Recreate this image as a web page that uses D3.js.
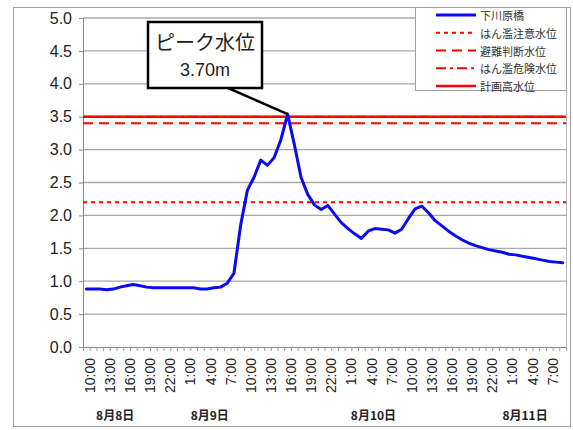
<!DOCTYPE html>
<html><head><meta charset="utf-8">
<script src="https://cdn.jsdelivr.net/npm/d3@7"></script>
<style>
html,body{margin:0;padding:0;background:#fff;}
svg{display:block;}
</style></head>
<body>
<svg id="chart" width="573" height="430"></svg>
<script>
// ---- data ----
const startHour = 10;           // first category: 8/8 10:00
const nCategories = 72;         // hourly observations
const levels = [0.88,0.88,0.88,0.87,0.88,0.91,0.93,0.95,0.93,0.91,0.90,0.90,
  0.90,0.90,0.90,0.90,0.90,0.88,0.88,0.90,0.91,0.97,1.12,1.85,
  2.38,2.58,2.84,2.76,2.88,3.15,3.54,3.08,2.58,2.32,2.16,2.09,
  2.15,2.02,1.89,1.80,1.72,1.65,1.76,1.80,1.79,1.78,1.73,1.79,
  1.95,2.10,2.14,2.04,1.92,1.84,1.76,1.69,1.63,1.58,1.54,1.51,
  1.48,1.46,1.44,1.41,1.40,1.38,1.36,1.34,1.32,1.30,1.29,1.28];
const seriesName = "下川原橋";
const refNames = ["はん濫注意水位","避難判断水位","はん濫危険水位","計画高水位"];
const refValues = [2.20, 3.40, 3.50, 3.50];
const yTicks = [0,0.5,1,1.5,2,2.5,3,3.5,4,4.5,5];
const tickLabels = ["10:00","13:00","16:00","19:00","22:00","1:00","4:00","7:00",
  "10:00","13:00","16:00","19:00","22:00","1:00","4:00","7:00",
  "10:00","13:00","16:00","19:00","22:00","1:00","4:00","7:00"];
const dateLabels = ["8月8日","8月9日","8月10日","8月11日"];
const dateAt = [4.3, 18.4, 42.8, 65.4];   // category index under which each date sits
const peakLabel = ["ピーク水位","3.70m"];

// ---- layout ----
const svg = d3.select("#chart");
const L = 83, R = 566, T = 18, B = 347;
const cats = d3.range(nCategories);
const x = d3.scaleBand().domain(cats).range([L, R]).padding(0);
const cx = i => x(i) + x.bandwidth()/2;
const xc = d3.scaleLinear().domain([-0.5, nCategories-0.5]).range([L, R]);
const y = d3.scaleLinear().domain([0,5]).range([B, T]);
const numFont = "'Liberation Sans', Arial, sans-serif";
const jpFont = "'Noto Sans CJK JP', sans-serif";

// outer frame
svg.append("rect").attr("x",13.5).attr("y",7.5).attr("width",557).attr("height",419)
  .attr("fill","#fff").attr("stroke","#a0a0a0").attr("stroke-width",1);

// gridlines
svg.append("g").selectAll("line").data(yTicks.filter(d=>d>0)).join("line")
  .attr("x1",L).attr("x2",R).attr("y1",d=>y(d)).attr("y2",d=>y(d))
  .attr("stroke","#a8a8a8").attr("stroke-width",1.3);
// plot right border
svg.append("line").attr("x1",R+0.5).attr("x2",R+0.5).attr("y1",T).attr("y2",B)
  .attr("stroke","#b8b8b8").attr("stroke-width",1);

// y axis
const yAxis = d3.axisLeft(y).tickValues(yTicks).tickFormat(d3.format(".1f")).tickSize(4).tickPadding(7);
const gy = svg.append("g").attr("transform",`translate(${L},0)`).call(yAxis);
gy.select(".domain").attr("stroke","#888");
gy.selectAll(".tick line").attr("stroke","#888");
gy.selectAll("text").attr("font-family",numFont).attr("font-size",16).attr("fill","#222");

// x axis (hourly minor ticks at category boundaries)
const gx = svg.append("g").attr("transform",`translate(0,${B})`)
  .call(d3.axisBottom(xc).tickValues(d3.range(-0.5, nCategories, 1)).tickSize(4).tickFormat(""));
gx.select(".domain").attr("stroke","#888");
gx.selectAll(".tick line").attr("stroke","#999");

// x tick labels every 3 hours
svg.append("g").selectAll("text").data(tickLabels).join("text")
  .attr("transform",(d,i)=>`translate(${cx(i*3)+3.5},${B+11}) rotate(-90)`)
  .attr("text-anchor","end").attr("dominant-baseline","central")
  .attr("font-family",numFont).attr("font-size",14).attr("fill","#222")
  .text(d=>d);

// date labels
svg.append("g").selectAll("text").data(dateLabels).join("text")
  .attr("x",(d,i)=>xc(dateAt[i])).attr("y",420)
  .attr("text-anchor","middle").attr("font-family",jpFont).attr("font-weight","bold")
  .attr("font-size",12).attr("fill","#222").text(d=>d);

// reference lines
const refStyles = [
  {dash:"4,4", w:2},
  {dash:"10,6", w:2},
  {dash:"10,4,3,4", w:2},
  {dash:null, w:2.6}
];
svg.append("g").selectAll("line").data(refValues).join("line")
  .attr("x1",L).attr("x2",R).attr("y1",d=>y(d)).attr("y2",d=>y(d))
  .attr("stroke","#ff0000").attr("stroke-width",(d,i)=>refStyles[i].w)
  .attr("stroke-dasharray",(d,i)=>refStyles[i].dash);

// water level line
const line = d3.line().x((d,i)=>cx(i)).y(d=>y(d)).curve(d3.curveLinear);
svg.append("path").datum(levels).attr("d",line)
  .attr("fill","none").attr("stroke","#0a0af5").attr("stroke-width",3)
  .attr("stroke-linejoin","round").attr("stroke-linecap","round");

// peak annotation
const peakIdx = levels.indexOf(d3.max(levels));
svg.append("line").attr("x1",228).attr("y1",88).attr("x2",cx(peakIdx)).attr("y2",y(levels[peakIdx]))
  .attr("stroke","#000").attr("stroke-width",2.5);
svg.append("rect").attr("x",148).attr("y",22).attr("width",114).attr("height",66)
  .attr("fill","#fff").attr("stroke","#000").attr("stroke-width",2.5);
svg.append("text").attr("x",205).attr("y",50).attr("text-anchor","middle")
  .attr("font-family",jpFont).attr("font-size",20).attr("fill","#222").text(peakLabel[0]);
svg.append("text").attr("x",205).attr("y",76).attr("text-anchor","middle")
  .attr("font-family",numFont).attr("font-size",18).attr("fill","#222").text(peakLabel[1]);

// legend
const lg = svg.append("g");
lg.append("rect").attr("x",415.5).attr("y",7.5).attr("width",151).attr("height",83)
  .attr("fill","#fff").attr("stroke","#a0a0a0").attr("stroke-width",1);
const legendItems = [{name:seriesName, color:"#0a0af5", dash:null, w:3}]
  .concat(refNames.map((n,i)=>({name:n, color:"#ff0000", dash:refStyles[i].dash, w:refStyles[i].w})));
const rowY = d3.scalePoint().domain(d3.range(legendItems.length)).range([15, 86]);
legendItems.forEach((it,i)=>{
  lg.append("line").attr("x1",436).attr("x2",476).attr("y1",rowY(i)).attr("y2",rowY(i))
    .attr("stroke",it.color).attr("stroke-width",it.w).attr("stroke-dasharray",it.dash);
  lg.append("text").attr("x",480).attr("y",rowY(i)).attr("dominant-baseline","central")
    .attr("font-family",jpFont).attr("font-size",11).attr("fill","#333").text(it.name);
});
</script>
</body></html>
